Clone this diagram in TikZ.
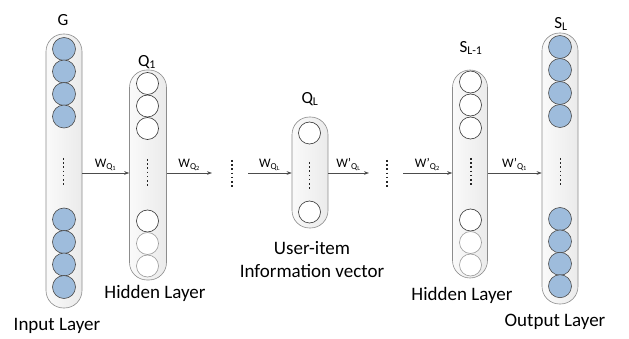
\documentclass[tikz,border=0pt]{standalone}
\usepackage{fontspec}
\setmainfont{Carlito}
\usetikzlibrary{positioning,arrows.meta}
\definecolor{unitblue}{HTML}{9EBCDC}
\begin{document}
\begin{tikzpicture}[x=1pt, y=-1pt,
    layer/.style={draw=black!45, line width=0.6pt, rounded corners=17.5pt, minimum width=36pt, inner sep=0pt, left color=gray!4, right color=gray!16},
    unit/.style={circle, draw=black!70, line width=0.6pt, minimum size=22pt, inner sep=0pt, fill=unitblue},
    hunit/.style={unit, draw=black!80, fill=white},
    funit/.style={unit, draw=black!40, fill=white},
    dotcol/.style={draw=black!85, line width=1.7pt, dash pattern=on 1.7pt off 2.5pt},
    link/.style={-{Stealth[length=5pt, width=3.6pt]}, draw=black!70, line width=0.6pt},
    wlabel/.style={above, inner sep=2pt, font=\fontsize{13}{15}\selectfont},
    colname/.style={font=\fontsize{17}{20}\selectfont},
    layername/.style={font=\fontsize{19}{23}\selectfont, align=center}]
    \useasboundingbox (0,0) rectangle (629,339);

    % the five columns
    \node [layer, minimum height=274pt] (colG) at (64,171) {};
    \node [layer, minimum height=210pt, minimum width=37pt] (colQ) at (148,175) {};
    \node [layer, minimum height=111pt] (colQL) at (310,172.5) {};
    \node [layer, minimum height=208pt, minimum width=35pt] (colS) at (470,174) {};
    \node [layer, minimum height=271pt] (colSL) at (560,168.5) {};

    % input and output units
    \foreach \i in {0,...,3} {
        \node [unit, minimum size=23pt] (g\i) at (64,{49+22.5*\i}) {};
        \node [unit, minimum size=23pt] (gb\i) at (64,{219.5+22.5*\i}) {};
        \node [unit, minimum size=23pt] (sl\i) at (560,{47+23*\i}) {};
        \node [unit, minimum size=23pt] (slb\i) at (560,{219+22.4*\i}) {};
    }

    % hidden units
    \foreach \i in {0,...,2} {
        \node [hunit] (q\i) at (147.5,{83.5+22.5*\i}) {};
        \node [hunit] (s\i) at (470.5,{82+23*\i}) {};
    }
    \node [hunit] (qb0) at (147.5,221) {};
    \node [funit] (qb1) at (147.5,243.5) {};
    \node [funit] (qb2) at (147.5,266) {};
    \node [hunit] (sb0) at (470.5,220) {};
    \node [funit] (sb1) at (470.5,242.5) {};
    \node [funit] (sb2) at (470.5,265) {};
    \node [hunit] (ql0) at (309.5,133) {};
    \node [hunit] (ql1) at (309.5,212) {};

    % gaps between the layers
    \coordinate (gapA) at (232,173);
    \coordinate (gapB) at (387,173);

    % vertical dots
    \draw [dotcol] (63.5,158) -- (63.5,187);
    \draw [dotcol] (147.5,159) -- (147.5,188);
    \draw [dotcol] (309.5,162) -- (309.5,190);
    \draw [dotcol] ([yshift=13pt]gapA) -- ([yshift=-15pt]gapA);
    \draw [dotcol] ([yshift=13pt]gapB) -- ([yshift=-15pt]gapB);
    \draw [dotcol] (471,158) -- (471,187);
    \draw [dotcol] (560.5,158) -- (560.5,187);

    % weights
    \draw [link] (colG.east |- gapA) -- node [wlabel] {W\textsubscript{Q\textsubscript{1}}} (colQ.west |- gapA);
    \draw [link] (colQ.east |- gapA) -- node [wlabel] {W\textsubscript{Q\textsubscript{2}}} ([xshift=-20pt]gapA);
    \draw [link] ([xshift=16pt]gapA) -- node [wlabel] {W\textsubscript{Q\textsubscript{L}}} (colQL.west |- gapA);
    \draw [link] (colQL.east |- gapB) -- node [wlabel] {W'\textsubscript{Q\textsubscript{L}}} ([xshift=-18pt]gapB);
    \draw [link] ([xshift=16pt]gapB) -- node [wlabel] {W'\textsubscript{Q\textsubscript{2}}} (colS.west |- gapB);
    \draw [link] (colS.east |- gapB) -- node [wlabel] {W'\textsubscript{Q\textsubscript{1}}} (colSL.west |- gapB);

    % column names
    \node [colname] (nameG) at (63,20) {G};
    \node [colname] (nameQ) at (147,62) {Q\textsubscript{1}};
    \node [colname] (nameQL) at (310,99) {Q\textsubscript{L}};
    \node [colname] (nameS) at (471,48) {S\textsubscript{L-1}};
    \node [colname] (nameSL) at (561,24) {S\textsubscript{L}};

    % layer names
    \node [layername] (input) at (57,326) {Input Layer};
    \node [layername] (hiddenA) at (155,293) {Hidden Layer};
    \node [layername] (code) at (312,260) {User-item\\Information vector};
    \node [layername] (hiddenB) at (462,295) {Hidden Layer};
    \node [layername] (output) at (555,322) {Output Layer};
\end{tikzpicture}
\end{document}
